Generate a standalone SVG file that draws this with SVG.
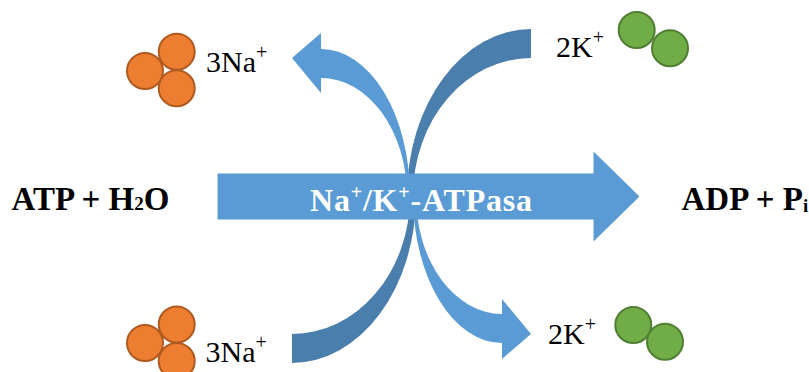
<svg xmlns="http://www.w3.org/2000/svg" width="809" height="372" viewBox="0 0 809 372">
  <style>
    .na { fill: #ED7D31; stroke: #AE5A21; stroke-width: 2; }
    .k { fill: #70AD47; stroke: #507E32; stroke-width: 2; }
    .light { fill: #5B9BD5; }
    .dark { fill: #4A7EAD; }
    .ion { font-family: "Liberation Serif", "Times New Roman", serif; font-size: 30px; fill: #000; }
    .eq { font-family: "Liberation Serif", "Times New Roman", serif; font-size: 33px; font-weight: bold; fill: #000; }
    .enz { font-family: "Liberation Serif", "Times New Roman", serif; font-size: 32px; font-weight: bold; fill: #fff; letter-spacing: 0.8px; }
    .sup { font-size: 20px; }
  </style>
  <defs>
    <!-- upper pair of curved arrows: sodium out (light), potassium in (dark) -->
    <g id="curves">
      <path class="dark" d="M 531,29 A 124 167 0 0 0 407,196 L 413,196 A 118 138 0 0 1 531,58 Z"/>
      <path class="light" d="M 321,49 A 89 147 0 0 1 410,196 L 407,196 A 86 118 0 0 0 321,78 L 321,93 L 292,58 L 321,33 Z"/>
    </g>
  </defs>

  <g id="connectors">
    <use href="#curves"/>
    <use href="#curves" transform="rotate(180 411.5 196)"/>
  </g>

  <g id="enzyme">
    <path class="light" d="M 217.5,173.5 H 593.5 V 151.5 L 639.5,196.5 L 593.5,241.5 V 219.5 H 217.5 Z"/>
    <text class="enz" x="310" y="211">Na<tspan class="sup" dy="-12">+</tspan><tspan dy="12">/K</tspan><tspan class="sup" dy="-12">+</tspan><tspan dy="12">-ATPasa</tspan></text>
  </g>

  <g id="reactants">
    <text class="eq" x="11.5" y="210">ATP + H<tspan font-size="19">2</tspan>O</text>
  </g>

  <g id="products">
    <text class="eq" x="681.5" y="210">ADP + P<tspan font-size="19" dy="2">i</tspan></text>
  </g>

  <g id="na-out">
    <circle class="na" cx="145" cy="71" r="18"/>
    <circle class="na" cx="176.7" cy="51.7" r="18"/>
    <circle class="na" cx="176.7" cy="88.3" r="18"/>
    <text class="ion" x="206" y="72">3Na<tspan class="sup" dy="-13">+</tspan></text>
  </g>

  <g id="k-out">
    <text class="ion" x="556" y="57">2K<tspan class="sup" dy="-13">+</tspan></text>
    <circle class="k" cx="636.7" cy="30" r="18"/>
    <circle class="k" cx="670" cy="48.3" r="18"/>
  </g>

  <g id="na-in">
    <circle class="na" cx="145" cy="343" r="18"/>
    <circle class="na" cx="176.7" cy="324.5" r="18"/>
    <circle class="na" cx="176.7" cy="361" r="18"/>
    <text class="ion" x="205.5" y="362">3Na<tspan class="sup" dy="-13">+</tspan></text>
  </g>

  <g id="k-in">
    <text class="ion" x="548" y="343.5">2K<tspan class="sup" dy="-13">+</tspan></text>
    <circle class="k" cx="633.3" cy="325" r="18"/>
    <circle class="k" cx="665" cy="341.7" r="18"/>
  </g>
</svg>
